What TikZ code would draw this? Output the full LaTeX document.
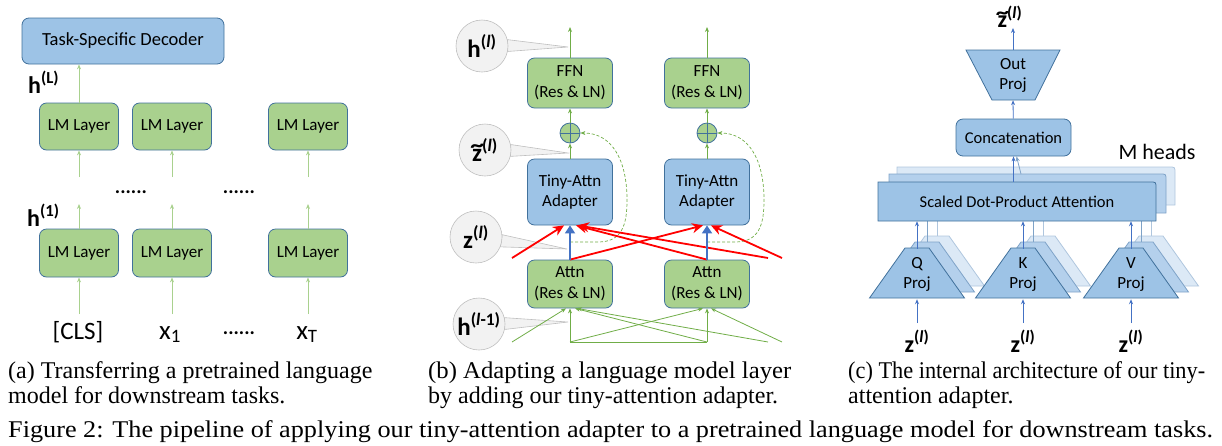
\documentclass[tikz,border=0pt]{standalone}
\usepackage{fontspec}
\setmainfont{Liberation Serif}
\newfontfamily\calib{Carlito}
\usetikzlibrary{arrows.meta,backgrounds}
\definecolor{gfill}{HTML}{A9D18E}
\definecolor{bfill}{HTML}{9DC3E6}
\definecolor{bdr}{HTML}{41719C}
\definecolor{lgreen}{HTML}{A9D18E}
\definecolor{dgreen}{HTML}{70AD47}
\definecolor{barr}{HTML}{4472C4}
\definecolor{bubf}{HTML}{F2F2F2}
\definecolor{bubd}{HTML}{BFBFBF}
\definecolor{midf}{HTML}{B4D0EC}
\definecolor{midd}{HTML}{7FA3C8}
\definecolor{backf}{HTML}{DCE9F6}
\definecolor{backd}{HTML}{AFC6DE}
\newcommand\fsz[2]{\fontsize{#1}{#2}\selectfont}
\newcommand\zt{\leavevmode\ooalign{z\cr\hidewidth\raisebox{0.36em}{\scalebox{1.1}[0.9]{\char"7E}}\hidewidth\cr}}
\begin{document}
\begin{tikzpicture}[x=1pt,y=-1pt,
 box/.style={draw=bdr,line width=0.8pt,rounded corners=7pt,inner sep=0pt,align=center,font=\calib\fsz{17}{20}},
 gbox/.style={box,fill=gfill},
 bbox/.style={box,fill=bfill},
 arrA/.style={draw=lgreen,line width=0.8pt,-{Stealth[length=5pt,width=4pt]}},
 arrG/.style={draw=dgreen,line width=0.8pt,-{Stealth[length=5pt,width=4pt]}},
 lineG/.style={draw=dgreen,line width=0.8pt},
 arrR/.style={draw=red,line width=1.8pt,-{Stealth[length=11pt,width=10pt]}},
 arrB/.style={draw=barr,line width=1.8pt,-{Triangle[length=8pt,width=10pt]}},
 arrT/.style={draw=barr,line width=0.8pt,-{Stealth[length=5pt,width=4pt]}},
 arrD/.style={draw=dgreen,line width=0.7pt,dash pattern=on 3pt off 2pt,-{Stealth[length=5pt,width=4pt]}},
 bub/.style={circle,fill=bubf,draw=bubd,line width=0.6pt,minimum size=52pt,inner sep=0pt,font=\calib\bfseries\fsz{25}{25}},
 bubtail/.style={fill=bubf,draw=bubd,line width=0.6pt},
 lbl/.style={inner sep=0pt,font=\calib\bfseries\fsz{24}{24}},
 captxt/.style={inner sep=0pt,anchor=base west,font=\fsz{24}{25}},
 plusc/.style={circle,fill=gfill,draw=bdr,line width=0.8pt,minimum size=20pt,inner sep=0pt},
 txt/.style={inner sep=0pt,align=center,font=\calib\fsz{17}{20}},
]
\useasboundingbox (0,0) rectangle (1222,445);

% ---------------- panel (a)
\node[bbox,minimum width=202,minimum height=46,font=\calib\fsz{18.5}{20}] (dec) at (123,41) {Task-Specific Decoder};
\foreach \n/\x in {1/79,2/172,3/308}{
  \node[gbox,minimum width=79,minimum height=47] (lmA\n) at (\x,126.5) {LM Layer};
  \node[gbox,minimum width=79,minimum height=48] (lmB\n) at (\x,253) {LM Layer};
  \coordinate (ia\n) at (\x,177);
  \coordinate (ob\n) at (\x,204);
  \coordinate (ib\n) at (\x,314);
  \draw[arrA] (ia\n) -- (lmA\n);
  \draw[arrA] (lmB\n) -- (ob\n);
  \draw[arrA] (ib\n) -- (lmB\n);
}
\draw[arrA] (lmA1) -- (lmA1 |- dec.south);
\node[lbl,anchor=base west] (hL) at (28,93) {h\textsuperscript{(L)}};
\node[lbl,anchor=base west] (h1) at (27,226) {h\textsuperscript{(1)}};
\node[inner sep=0pt,anchor=base,font=\calib\bfseries\fsz{20}{20}] (d1) at (131,193) {......};
\node[inner sep=0pt,anchor=base,font=\calib\bfseries\fsz{20}{20}] (d2) at (239,193) {......};
\node[inner sep=0pt,anchor=base,font=\calib\bfseries\fsz{20}{20}] (d3) at (239,334) {......};
\node[inner sep=0pt,anchor=base,font=\calib\fsz{25}{25}] (cls) at (78,339) {[CLS]};
\node[inner sep=0pt,anchor=base,font=\calib\fsz{27}{27}] (x1) at (170,339) {x\textsubscript{1}};
\node[inner sep=0pt,anchor=base,font=\calib\fsz{27}{27}] (xT) at (307,339) {x\textsubscript{T}};
\node[captxt] (capa1) at (8,378) {(a) Transferring a pretrained language};
\node[captxt] (capa2) at (8,403) {model for downstream tasks.};

% ---------------- panel (b)
\foreach \n/\x in {1/570,2/707}{
  \node[gbox,minimum width=85,minimum height=50,font=\calib\fsz{17}{21}] (ffn\n) at (\x,83) {FFN\\(Res \& LN)};
  \node[plusc] (p\n) at (\x,133) {};
  \draw[bdr,line width=0.8pt] (p\n.north) -- (p\n.south) (p\n.west) -- (p\n.east);
  \node[bbox,minimum width=85,minimum height=66,font=\calib\fsz{17}{20}] (ta\n) at (\x,192) {Tiny-Attn\\Adapter};
  \node[gbox,minimum width=85,minimum height=48,font=\calib\fsz{17}{21}] (at\n) at (\x,284) {Attn\\(Res \& LN)};
  \coordinate (top\n) at (\x,27);
  \coordinate (s\n) at (\x,242);
  \draw[arrG] (ffn\n) -- (top\n);
  \draw[arrG] (p\n) -- (ffn\n);
  \draw[arrG] (ta\n) -- (p\n);
}
\draw[arrD] (s1) -- (598,242) .. controls (622,242) and (627,225) .. (627,200) .. controls (627,160) and (612,133) .. (p1.east);
\draw[arrD] (s2) -- (735,242) .. controls (759,242) and (764,225) .. (764,200) .. controls (764,160) and (749,133) .. (p2.east);

% red arrows
\coordinate (r1s) at (512,258);
\coordinate (r4s) at (768,258);
\coordinate (r5s) at (782,258);
\draw[arrR] (r1s) -- ([xshift=-6]ta1.south);
\draw[arrR] (at1.north) -- ([xshift=-4]ta2.south);
\draw[arrR] (at2.north) -- ([xshift=6]ta1.south);
\draw[arrR] (r4s) -- ([xshift=8]ta1.south);
\draw[arrR] (r5s) -- ([xshift=4]ta2.south);
\draw[arrB] (at1) -- (ta1);
\draw[arrB] (at2) -- (ta2);

% green inputs
\coordinate (g1s) at (512,342);
\coordinate (g2s) at (570,342);
\coordinate (g3s) at (707,342);
\coordinate (g4s) at (768,342);
\coordinate (g5s) at (782,342);
\draw[arrG] (g1s) -- ([xshift=-4]at1.south);
\draw[arrG] (g2s) -- (at1.south);
\draw[arrG] (g2s) -- ([xshift=-4]at2.south);
\draw[arrG] (g3s) -- ([xshift=5]at1.south);
\draw[arrG] (g4s) -- ([xshift=7]at1.south);
\draw[arrG] (g3s) -- (at2.south);
\draw[arrG] (g5s) -- ([xshift=4]at2.south);
\draw[lineG] (g2s) -- (g3s);

% bubbles
\coordinate (t1) at (568,47);
\coordinate (t2) at (568,153);
\coordinate (t3) at (567,249);
\coordinate (t4) at (568,322);
\node[bub] (bh) at (482,46) {h\textsuperscript{(\textit{l})}};
\node[bub] (bzt) at (485,150) {\zt\textsuperscript{(\textit{l})}};
\node[bub] (bz) at (476,237) {z\textsuperscript{(\textit{l})}};
\node[bub] (bhm) at (479,324) {h\textsuperscript{(\textit{l}-1)}};
\begin{pgfonlayer}{background}
\filldraw[bubtail] (bh.14) -- (t1) -- (bh.-12) -- cycle;
\filldraw[bubtail] (bzt.12) -- (t2) -- (bzt.-14) -- cycle;
\filldraw[bubtail] (bz.5) -- (t3) -- (bz.-22) -- cycle;
\filldraw[bubtail] (bhm.14) -- (t4) -- (bhm.-12) -- cycle;
\end{pgfonlayer}
\node[captxt] (capb1) at (428,378) {\scalebox{1.03}[1]{(b) Adapting a language model layer}};
\node[captxt] (capb2) at (428,403) {by adding our tiny-attention adapter.};

% ---------------- panel (c)
\node[lbl] (ztl) at (1010,17) {\zt\textsuperscript{(\textit{l})}};
\filldraw[fill=bfill,draw=bdr,line width=0.8pt] (966,50) -- (1060,50) -- (1035,100) -- (992,100) -- cycle;
\node[txt,minimum width=43,minimum height=50] (op) at (1013,75) {Out\\Proj};
\node[bbox,minimum width=115,minimum height=37,font=\calib\fsz{16.5}{20}] (cc) at (1013.5,137.5) {Concatenation};
\draw[arrT] (op.north) -- (op.north |- ztl.south);
\draw[arrT] (cc) -- (op.south);
\node[inner sep=0pt,font=\calib\fsz{22}{22}] (mh) at (1157,152) {M heads};
% SDPA stack
\filldraw[fill=backf,draw=backd,line width=0.8pt] (897,205) -- (897,167) -- (1169,167) .. controls (1175,167) .. (1175,173) -- (1175,205) -- cycle;
\filldraw[fill=midf,draw=midd,line width=0.8pt] (889,213) -- (889,174) -- (1160,174) .. controls (1166,174) .. (1166,180) -- (1166,213) -- cycle;
\coordinate (mt) at (1021,174);
\draw[draw=midd,line width=0.8pt,-{Stealth[length=5pt,width=4pt]}] (mt) -- ([xshift=3]cc.south);
% QKV copies
\foreach \n/\c in {q/917,k/1023,v/1131}{
  \filldraw[fill=backf,draw=backd,line width=0.8pt] (\c-27.5,286) -- (\c+8,236) -- (\c+32,236) -- (\c+67.5,286) -- cycle;
  \draw[backd,line width=0.8pt] (\c+20,236) -- (\c+20,205);
  \filldraw[fill=midf,draw=midd,line width=0.8pt] (\c-37.5,292) -- (\c-2,242) -- (\c+22,242) -- (\c+57.5,292) -- cycle;
  \draw[midd,line width=0.8pt] (\c+10,242) -- (\c+10,213);
  \filldraw[fill=bfill,draw=bdr,line width=0.8pt] (\c-47.5,298) -- (\c-12,248) -- (\c+12,248) -- (\c+47.5,298) -- cycle;
}
\filldraw[fill=bfill,draw=bdr,line width=0.8pt] (878,221) -- (878,182) -- (1150,182) .. controls (1156,182) .. (1156,188) -- (1156,221) -- cycle;
\node[txt,minimum width=276,minimum height=39,font=\calib\fsz{16.5}{20}] (sdpa) at (1017,201.5) {Scaled Dot-Product Attention};
\draw[arrT] (cc.south |- sdpa.north) -- (cc);
\node[txt,minimum width=60,minimum height=50] (qp) at (917,274) {Q\\Proj};
\node[txt,minimum width=60,minimum height=50] (kp) at (1023,274) {K\\Proj};
\node[txt,minimum width=60,minimum height=50] (vp) at (1131,274) {V\\Proj};
\foreach \n/\c in {q/917,k/1023,v/1131}{
  \node[lbl,anchor=base] (z\n) at (\c,352) {z\textsuperscript{(\textit{l})}};
  \coordinate (zs\n) at (\c,323);
  \draw[arrT] (zs\n) -- (\n p.south);
  \draw[arrT] (\n p.north) -- (\n p.north |- sdpa.south);
}
\node[captxt] (capc1) at (848,378) {\scalebox{0.93}[1]{(c) The internal architecture of our tiny-}};
\node[captxt] (capc2) at (848,403) {attention adapter.};

% figure caption
\node[captxt] (fig) at (8,437) {\scalebox{1.093}[1]{Figure 2: The pipeline of applying our tiny-attention adapter to a pretrained language model for downstream tasks.}};
\end{tikzpicture}
\end{document}
